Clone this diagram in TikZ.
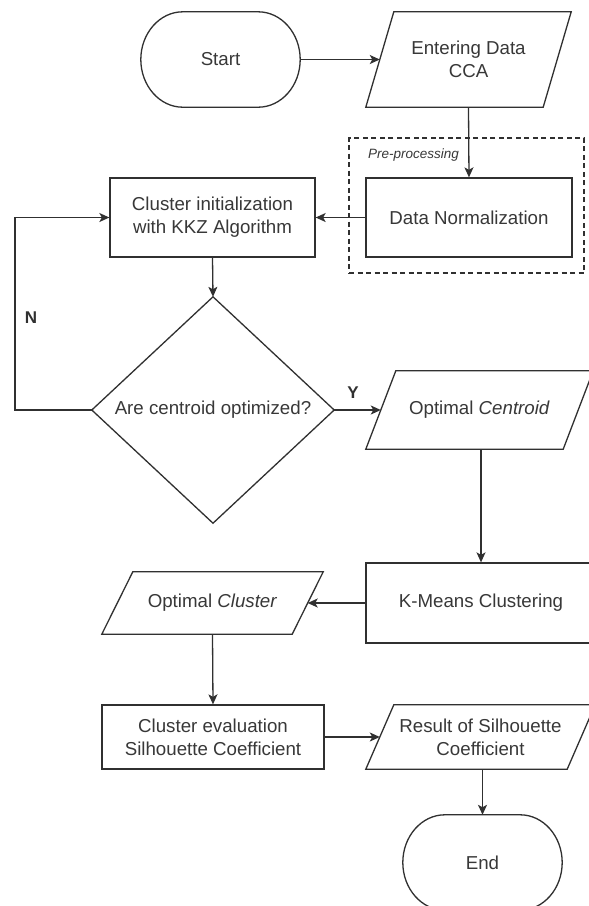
\documentclass[tikz,border=0pt]{standalone}
\usepackage{fontspec}
\setmainfont{Liberation Sans}
\usetikzlibrary{arrows.meta}
\definecolor{lc}{HTML}{303030}
\definecolor{tc}{HTML}{383838}
\tikzset{
  box/.style={rectangle, draw=lc, line width=1.3pt, align=center, inner sep=0pt},
  plain/.style={rectangle, draw=none, align=center, inner sep=0pt},
  outline/.style={draw=lc, line width=1.3pt},
  conn/.style={draw=lc, line width=1.3pt, -{Stealth[length=10pt,width=9pt,inset=2.5pt]}},
  prepbox/.style={rectangle, draw=lc, line width=2pt, dash pattern=on 5pt off 3.5pt, inner sep=0pt},
  yn/.style={font=\fontsize{17}{20}\selectfont\bfseries, text=lc},
}
\newcommand\parapath[2]{\draw[outline] ([xshift=-#2]#1.south west) -- ([xshift=-#2]#1.south east) -- ([xshift=#2]#1.north east) -- ([xshift=#2]#1.north west) -- cycle;}
\newcommand\stadiumpath[1]{\draw[outline] ([xshift=42pt]#1.north west) -- ([xshift=-42pt]#1.north east)
  .. controls ([xshift=-18.8pt]#1.north east) and ([yshift=26.2pt]#1.east) .. (#1.east)
  .. controls ([yshift=-26.2pt]#1.east) and ([xshift=-18.8pt]#1.south east) .. ([xshift=-42pt]#1.south east)
  -- ([xshift=42pt]#1.south west)
  .. controls ([xshift=18.8pt]#1.south west) and ([yshift=-26.2pt]#1.west) .. (#1.west)
  .. controls ([yshift=26.2pt]#1.west) and ([xshift=18.8pt]#1.north west) .. ([xshift=42pt]#1.north west) -- cycle;}
\begin{document}
\begin{tikzpicture}[x=1pt, y=-1pt, font=\fontsize{18.7}{23}\selectfont, text=tc]
\useasboundingbox (0,0) rectangle (589,906);
\clip (0,0) rectangle (589,906);
\fill[white] (0,0) rectangle (589,906);

% nodes
\node[plain, minimum width=159pt, minimum height=95pt] (start) at (220.5,59.5) {Start};
\stadiumpath{start}
\node[plain, minimum width=177pt, minimum height=95pt] (entering) at (468.5,59.5) {Entering Data\\CCA};
\parapath{entering}{14pt}

\node[prepbox, minimum width=235pt, minimum height=135pt] (prep) at (466.5,205.5) {};
\node[anchor=west, font=\fontsize{13.5}{16}\selectfont\itshape, inner sep=0pt] (prelabel) at (368,155) {Pre-processing};
\node[box, minimum width=206pt, minimum height=79pt] (norm) at (469,217.5) {Data Normalization};
\node[box, minimum width=205pt, minimum height=79pt] (init) at (212.5,217.5) {Cluster initialization\\with KKZ Algorithm};

\node[plain, minimum width=242pt, minimum height=226pt] (dec) at (213,410) {Are centroid optimized?};
\draw[outline] (dec.north) -- (dec.east) -- (dec.south) -- (dec.west) -- cycle;

\node[plain, minimum width=197pt, minimum height=78pt] (centroid) at (479.5,410) {Optimal \textit{Centroid}};
\parapath{centroid}{15pt}

\node[box, minimum width=230pt, minimum height=80pt] (kmeans) at (481,603) {K-Means Clustering};
\node[plain, minimum width=190pt, minimum height=62pt] (optcl) at (212.5,603) {Optimal \textit{Cluster}};
\parapath{optcl}{15.5pt}

\node[box, minimum width=222pt, minimum height=64pt] (eval) at (213,737) {Cluster evaluation\\Silhouette Coefficient};
\node[plain, minimum width=201pt, minimum height=64pt] (result) at (480.5,737) {Result of Silhouette\\Coefficient};
\parapath{result}{14pt}

\node[plain, minimum width=159pt, minimum height=95pt] (end) at (482.5,862.5) {End};
\stadiumpath{end}

% connectors
\coordinate (loopx) at (15,410);
\draw[conn] (start.east) -- (entering.west);
\draw[conn] (entering.south) -- (norm.north);
\draw[conn] (norm.west) -- (init.east);
\draw[conn] (init.south) -- (dec.north);
\draw[conn] (dec.west) -- (dec.west -| loopx) |- (init.west);
\draw[conn] (dec.east) -- (centroid.west);
\draw[conn] (kmeans.north |- centroid.south) -- (kmeans.north);
\draw[conn] (kmeans.west) -- (optcl.east);
\draw[conn] (optcl.south) -- (eval.north);
\draw[conn] (eval.east) -- (result.west);
\draw[conn] (end.north |- result.south) -- (end.north);

% labels
\node[yn] (nlab) at (31,318) {N};
\node[yn] (ylab) at (353,393) {Y};
\end{tikzpicture}
\end{document}
